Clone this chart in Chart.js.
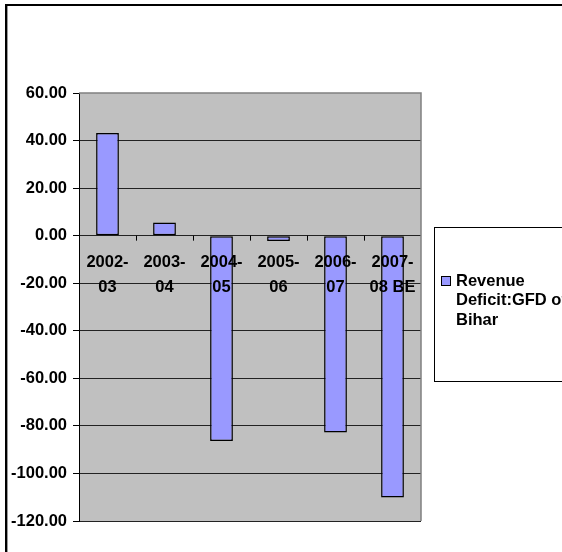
<!DOCTYPE html>
<html>
<head>
<meta charset="utf-8">
<script src="https://cdn.jsdelivr.net/npm/chart.js"></script>
<style>
  html, body { margin: 0; padding: 0; background: #fff; }
  canvas { display: block; }
</style>
</head>
<body>
<canvas id="deficitChart" width="562" height="552"></canvas>
<script>
// data
const years = [['2002-', '03'], ['2003-', '04'], ['2004-', '05'], ['2005-', '06'], ['2006-', '07'], ['2007-', '08 BE']];
const deficit = [43.2, 5.5, -86.4, -2.2, -82.8, -110.1];
const seriesName = 'Revenue Deficit:GFD of Bihar';
const legendLines = ['Revenue', 'Deficit:GFD of', 'Bihar'];
const yMin = -120, yMax = 60, yStep = 20;

const FONT = '"Liberation Sans", Arial, sans-serif';
const barColor = '#9999ff';

// Excel-ish extras: grey plot area, frame, labels on the zero line, legend box
const excelLook = {
    id: 'excelLook',
    beforeDraw(chart) {
        const { ctx, chartArea: a } = chart;
        ctx.save();
        ctx.fillStyle = '#fff';
        ctx.fillRect(0, 0, chart.width, chart.height);
        ctx.fillStyle = '#c0c0c0';
        ctx.fillRect(a.left, a.top, a.right - a.left, a.bottom - a.top);
        ctx.restore();
    },
    afterDatasetsDraw(chart) {
        const { ctx, chartArea: a, scales: { x, y } } = chart;
        const zero = y.getPixelForValue(0);
        ctx.save();

        // top / right edge of plot area
        ctx.strokeStyle = '#808080';
        ctx.lineWidth = 1.5;
        ctx.beginPath();
        ctx.moveTo(a.left, a.top);
        ctx.lineTo(a.right, a.top);
        ctx.lineTo(a.right, a.bottom);
        ctx.stroke();

        // small ticks between categories on the zero line
        ctx.strokeStyle = '#000';
        ctx.lineWidth = 1;
        ctx.beginPath();
        for (let i = 1; i < years.length; i++) {
            const px = Math.round((x.getPixelForValue(i - 1) + x.getPixelForValue(i)) / 2) + 0.5;
            ctx.moveTo(px, zero);
            ctx.lineTo(px, zero + 5);
        }
        ctx.stroke();

        // category labels sit just under the zero line
        ctx.font = 'bold 16.5px ' + FONT;
        ctx.textAlign = 'center';
        ctx.textBaseline = 'middle';
        ctx.fillStyle = '#000';
        years.forEach((lines, i) => {
            const cx = x.getPixelForValue(i);
            lines.forEach((t, j) => ctx.fillText(t, cx, zero + 27 + j * 25));
        });
        ctx.restore();
    },
    afterDraw(chart) {
        const { ctx } = chart;
        ctx.save();

        // outer chart frame (top + left only visible)
        ctx.strokeStyle = '#000';
        ctx.lineWidth = 2;
        ctx.beginPath();
        ctx.moveTo(6, 552);
        ctx.lineTo(6, 5);
        ctx.lineTo(562, 5);
        ctx.stroke();
        ctx.strokeStyle = '#9a9a9a';
        ctx.lineWidth = 1;
        ctx.beginPath();
        ctx.moveTo(7.5, 6);
        ctx.lineTo(7.5, 552);
        ctx.stroke();

        // legend box
        ctx.strokeStyle = '#000';
        ctx.lineWidth = 1;
        ctx.strokeRect(434.5, 227.5, 200, 154);
        ctx.fillStyle = barColor;
        ctx.fillRect(441, 276, 10, 10);
        ctx.strokeRect(441.5, 276.5, 9, 9);
        ctx.fillStyle = '#000';
        ctx.font = 'bold 16.5px ' + FONT;
        ctx.textAlign = 'left';
        ctx.textBaseline = 'middle';
        legendLines.forEach((t, j) => ctx.fillText(t, 456, 281 + j * 19.5));
        ctx.restore();
    }
};

const chartCtx = document.getElementById('deficitChart').getContext('2d');
const deficitChart = new Chart(chartCtx, {
    type: 'bar',
    data: {
        labels: years,
        datasets: [{
            label: seriesName,
            data: deficit,
            backgroundColor: barColor,
            borderColor: '#000',
            borderWidth: 1.5,
            borderSkipped: false,
            barPercentage: 0.4,
            categoryPercentage: 1
        }]
    },
    options: {
        responsive: false,
        animation: false,
        layout: { padding: { left: 0, top: 93, right: 141, bottom: 31 } },
        plugins: {
            legend: { display: false },
            tooltip: { enabled: false }
        },
        scales: {
            x: { display: false },
            y: {
                min: yMin,
                max: yMax,
                afterFit: (scale) => { scale.width = 79; },
                border: { display: true, color: '#000', width: 1 },
                grid: {
                    color: (c) => (c.tick && c.tick.value === yMax ? 'rgba(0,0,0,0)' : '#222'),
                    lineWidth: 1,
                    tickLength: 6,
                    tickColor: '#000'
                },
                ticks: {
                    stepSize: yStep,
                    padding: 6,
                    color: '#000',
                    font: { family: FONT, size: 16.5, weight: 'bold' },
                    callback: (v) => v.toFixed(2)
                }
            }
        }
    },
    plugins: [excelLook]
});
</script>
</body>
</html>
